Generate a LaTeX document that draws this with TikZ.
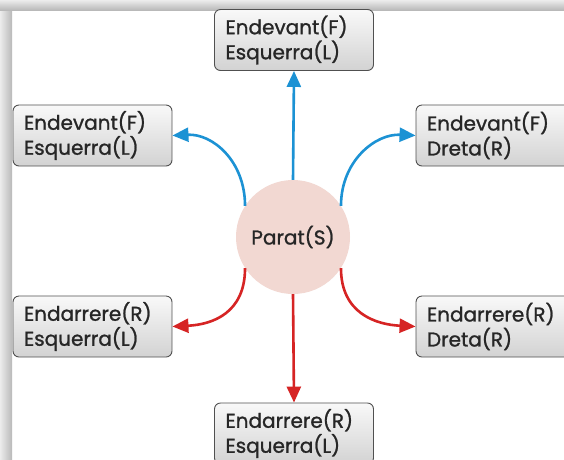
\documentclass[tikz,border=0pt]{standalone}
\usepackage{fontspec}
\setmainfont{Poppins}
\newfontfamily\labfont{Poppins}[FakeBold=1.2]
\usetikzlibrary{arrows.meta}
\definecolor{bluearr}{RGB}{28,146,212}
\definecolor{redarr}{RGB}{214,36,36}
\definecolor{circfill}{RGB}{242,216,210}
\definecolor{boxedge}{RGB}{80,80,80}
\begin{document}
\begin{tikzpicture}[x=1pt,y=-1pt,
  dirbox/.style={draw=boxedge,line width=0.9pt,rounded corners=6pt,top color=gray!5,bottom color=gray!35,
    minimum width=159pt,minimum height=61pt,text width=137pt,align=left,inner sep=0pt,
    font=\labfont\fontsize{20}{25}\selectfont,text=black!85},
  stopc/.style={circle,fill=circfill,minimum size=114pt,inner sep=0pt,font=\labfont\fontsize{20}{25}\selectfont,text=black!85},
  barr/.style={draw=bluearr,line width=2.6pt,-{Triangle[length=16pt,width=14pt]}},
  rarr/.style={draw=redarr,line width=2.6pt,-{Triangle[length=16pt,width=14pt]}}]
\useasboundingbox (0,0) rectangle (564,459);
\clip (0,0) rectangle (564,459);
\fill[white] (0,0) rectangle (564,459);
% frame shadow
\shade[left color=gray!15,right color=gray!55] (0,0) rectangle (12,459);
\shade[top color=gray!15,bottom color=gray!55] (12,0) rectangle (564,10);
\shade[top color=gray!15,bottom color=gray!55] (0,0) rectangle (12,10);
% nodes
\node[stopc] (c) at (293,237) {Parat(S)};
\node[dirbox] (t) at (294,40) {Endevant(F)\\Esquerra(L)};
\node[dirbox] (lu) at (92.5,135.5) {Endevant(F)\\Esquerra(L)};
\node[dirbox] (ru) at (495.5,135.5) {Endevant(F)\\Dreta(R)};
\node[dirbox] (ld) at (92.5,326.5) {Endarrere(R)\\Esquerra(L)};
\node[dirbox] (rd) at (495.5,326.5) {Endarrere(R)\\Dreta(R)};
\node[dirbox] (b) at (294,433.5) {Endarrere(R)\\Esquerra(L)};
% connectors
\draw[barr] (c.north) -- (t.south);
\draw[barr] (c.147) .. controls +(0,-45) and +(40,-2) .. (lu.east);
\draw[barr] (c.33) .. controls +(0,-45) and +(-40,-2) .. (ru.west);
\draw[rarr] (c.south) -- (b.north);
\draw[rarr] (c.-147) .. controls +(0,45) and +(40,-2) .. (ld.east);
\draw[rarr] (c.-33) .. controls +(0,45) and +(-40,-2) .. (rd.west);
\end{tikzpicture}
\end{document}
